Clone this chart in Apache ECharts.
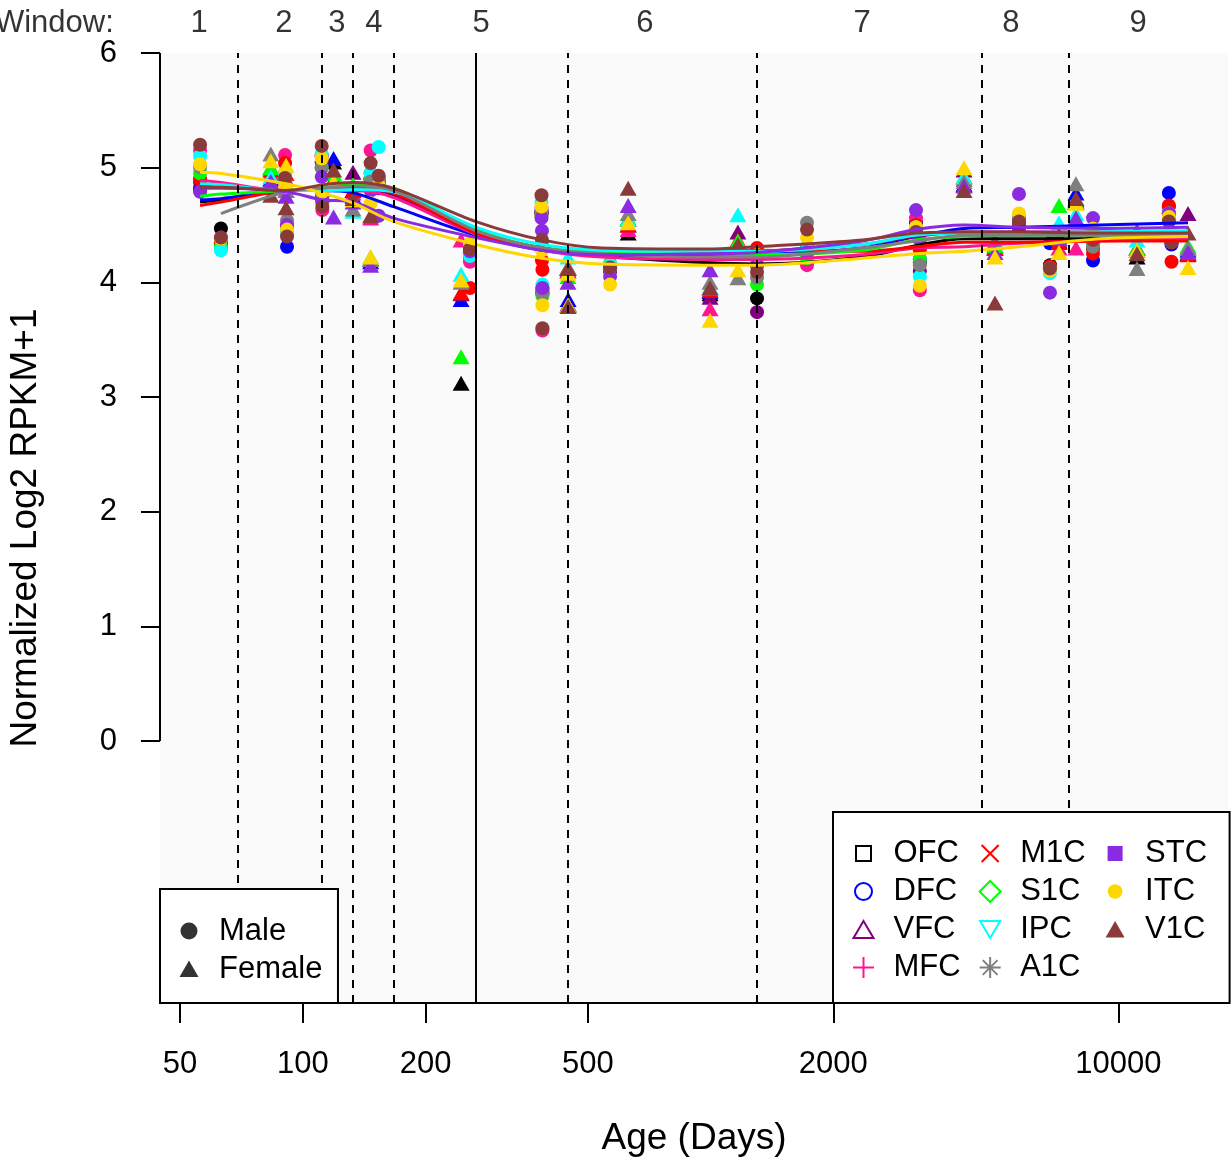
<!DOCTYPE html>
<html><head><meta charset="utf-8">
<script src="https://cdn.jsdelivr.net/npm/echarts@6/dist/echarts.min.js"></script>
<style>html,body{margin:0;padding:0;background:#fff}#c{width:1232px;height:1158px}</style>
</head><body><div id="c"></div>
<script>
const REGIONS = ['OFC','DFC','VFC','MFC','M1C','S1C','IPC','A1C','STC','ITC','V1C'];
const COLORS = ['#000000','#0000FF','#800080','#FF1493','#FF0000','#00FF00','#00FFFF','#7F7F7F','#8A2BE2','#FFD700','#8B3A3A'];

// sample ages (post-conception days) and sex of each donor column
const AGES = [56, 63, 83.5, 90.5, 91.5, 91, 111.3, 111.7, 119, 132.8, 146.7, 146.7, 153.5, 244.5, 257, 385, 386, 387, 447, 447.5, 567, 628, 997, 1167, 1300, 1724, 3190, 3260, 4184, 4983, 5706, 6797, 7152, 7871, 8667, 11111, 13300, 13500, 14820];
const SEX  = ['M','M','F','M','M','F','M','M','F','F','M','F','M','F','M','M','M','M','F','F','M','F','F','F','M','M','M','M','F','F','M','M','F','F','M','F','M','M','F'];

const OFC = [4.80,4.47,4.85,4.90,4.45,4.85,5.00,4.75,5.05,4.80,4.90,4.20,4.85,3.12,4.25,4.60,4.30,3.90,4.10,3.80,4.12,4.43,3.90,4.30,3.86,4.30,4.45,4.17,4.85,4.30,4.50,4.15,4.35,4.70,4.30,4.22,4.60,4.35,4.25];
const DFC = [4.82,4.30,4.90,4.85,4.31,4.90,5.05,4.72,5.08,4.75,4.85,4.18,4.82,3.85,4.22,4.62,4.30,3.92,4.12,3.85,4.10,4.50,3.92,4.32,4.22,4.28,4.52,4.20,4.85,4.30,4.52,4.34,4.36,4.78,4.19,4.30,4.78,4.33,4.28];
const VFC = [4.87,4.35,5.00,4.95,4.47,4.80,5.10,4.70,4.90,4.96,4.90,4.20,4.88,3.90,4.26,4.60,4.32,3.95,4.12,3.81,4.10,4.55,3.87,4.44,3.74,4.30,4.50,4.10,4.98,4.32,4.52,4.12,4.38,4.70,4.35,4.30,4.66,4.38,4.60];
const MFC = [5.15,4.33,4.95,5.11,4.50,4.90,5.10,4.63,4.88,4.78,5.15,4.56,4.90,4.37,4.18,4.65,4.30,3.58,4.10,3.80,4.12,4.46,3.77,4.30,4.15,4.15,4.56,3.93,4.90,4.30,4.50,4.12,4.30,4.30,4.32,4.30,4.60,4.36,4.30];
const M1C = [4.90,4.34,4.98,5.04,4.48,4.95,5.05,4.75,4.90,4.80,4.95,4.20,4.88,3.91,3.95,4.60,4.19,4.11,4.13,3.80,4.14,4.50,3.93,4.37,4.30,4.25,4.50,4.28,4.92,4.30,4.47,4.14,4.35,4.72,4.25,4.28,4.67,4.18,4.24];
const S1C = [4.95,4.31,5.00,4.90,4.46,4.85,5.00,4.78,4.95,4.85,4.90,4.22,4.92,3.35,4.25,4.58,4.32,3.88,4.05,3.80,4.17,4.56,3.95,4.36,3.98,4.21,4.45,4.20,4.92,4.32,4.55,4.12,4.67,4.70,4.33,4.30,4.60,4.40,4.32];
const IPC = [5.10,4.28,4.92,4.95,4.43,4.85,5.12,4.80,4.85,4.62,4.95,4.20,5.18,4.07,4.23,4.70,4.35,3.98,4.22,3.80,4.15,4.55,3.96,4.59,4.20,4.30,4.48,4.05,4.92,4.36,4.58,4.08,4.52,4.60,4.40,4.37,4.60,4.42,4.30];
const A1C = [5.00,4.38,5.12,4.88,4.54,4.80,5.00,4.70,4.88,4.64,4.88,4.20,4.90,4.00,4.28,4.62,4.30,3.90,4.13,3.80,4.12,4.60,4.00,4.04,4.04,4.52,4.46,4.15,4.88,4.35,4.55,4.12,4.40,4.86,4.31,4.12,4.55,4.35,4.30];
const STC = [4.79,4.39,4.88,4.86,4.50,4.75,4.92,4.72,4.57,4.70,4.80,4.15,4.58,null,4.27,4.56,4.45,3.95,4.00,null,4.05,4.67,4.11,4.30,4.15,4.26,4.63,4.37,4.84,4.26,4.77,3.91,4.38,4.56,4.56,4.45,4.60,4.38,4.26];
const ITC = [5.03,4.38,5.06,4.83,4.46,5.02,5.08,4.79,4.88,4.72,4.69,4.22,4.85,4.02,4.34,4.66,4.28,3.80,4.08,3.80,3.98,4.52,3.67,4.11,4.24,4.39,4.48,3.97,5.00,4.22,4.60,4.10,4.26,4.69,4.47,4.28,4.57,4.44,4.13];
const V1C = [5.20,4.39,4.76,4.91,4.40,4.65,5.19,4.66,4.98,4.73,5.04,4.58,4.93,null,4.29,4.76,4.37,3.60,4.12,3.79,4.13,4.82,3.95,4.33,4.09,4.46,4.44,null,4.80,3.82,4.53,4.12,4.41,4.73,4.37,4.25,4.53,4.35,4.43];

// smoothed (loess) curves
const LINE_AGES = [56, 63, 91, 111.5, 133, 167, 266, 386, 541, 997, 1300, 2360, 3190, 4184, 5706, 9016, 14820];
const OFC_FIT = [4.70,4.72,4.80,4.80,4.82,4.76,4.42,4.30,4.23,4.17,4.16,4.22,4.32,4.38,4.38,4.38,4.38];
const DFC_FIT = [4.72,4.73,4.80,4.80,4.78,4.66,4.41,4.28,4.24,4.23,4.24,4.30,4.40,4.47,4.48,4.50,4.52];
const VFC_FIT = [4.85,4.84,4.80,4.82,4.82,4.77,4.44,4.30,4.26,4.26,4.27,4.33,4.40,4.44,4.44,4.44,4.44];
const MFC_FIT = [4.89,4.87,4.80,4.80,4.80,4.74,4.42,4.28,4.22,4.20,4.20,4.24,4.30,4.31,4.34,4.36,4.38];
const M1C_FIT = [4.67,4.70,4.80,4.81,4.82,4.78,4.43,4.30,4.27,4.28,4.28,4.27,4.31,4.35,4.35,4.36,4.36];
const S1C_FIT = [4.75,4.77,4.80,4.82,4.85,4.82,4.46,4.30,4.26,4.25,4.24,4.28,4.37,4.40,4.41,4.41,4.42];
const IPC_FIT = [4.86,4.85,4.80,4.80,4.81,4.79,4.48,4.33,4.28,4.27,4.27,4.33,4.41,4.43,4.43,4.44,4.45];
const A1C_FIT = [null,4.60,4.79,4.82,4.84,4.80,4.45,4.30,4.25,4.22,4.22,4.30,4.36,4.41,4.41,4.41,4.42];
const STC_FIT = [4.82,4.82,4.79,4.72,4.70,4.56,4.39,4.28,4.24,4.25,4.26,4.36,4.46,4.50,4.48,4.47,4.48];
const ITC_FIT = [4.96,4.95,4.86,4.78,4.69,4.53,4.33,4.21,4.16,4.15,4.15,4.21,4.25,4.27,4.31,4.38,4.40];
const V1C_FIT = [4.83,4.83,4.80,4.85,4.87,4.82,4.53,4.37,4.30,4.29,4.31,4.37,4.43,4.44,4.44,4.43,4.43];

const WINDOW_BOUNDS = [69.4, 111.5, 132.8, 167.4, 266, 447, 1300, 4630, 7570];
const BIRTH = 266;
const WINDOW_LABELS = ['1','2','3','4','5','6','7','8','9'];
const WINDOW_LABEL_AGES = [55.7, 89.9, 121.3, 149.5, 273.6, 690, 2352, 5453, 11174];
const WINDOW_TITLE = 'Window:';
const WINDOW_TITLE_AGE = 24.6;
const X_TICKS = [50, 100, 200, 500, 2000, 10000];
const Y_TICKS = [0, 1, 2, 3, 4, 5, 6];
const X_MIN = 44.66, X_MAX = 18573, Y_MIN = -2.285, Y_MAX = 6, LABEL_Y = 6.255;

const POINTS = {OFC, DFC, VFC, MFC, M1C, S1C, IPC, A1C, STC, ITC, V1C};
const FITS = {OFC:OFC_FIT, DFC:DFC_FIT, VFC:VFC_FIT, MFC:MFC_FIT, M1C:M1C_FIT, S1C:S1C_FIT, IPC:IPC_FIT, A1C:A1C_FIT, STC:STC_FIT, ITC:ITC_FIT, V1C:V1C_FIT};

const FONT = 'Liberation Sans, Arial, Helvetica, sans-serif';
// icon frame spans the whole 50x21 legend item box
const BOX = 'M0 0M50 21';
const ICONS = {
  OFC: {p: BOX+'M17.5 3L32.5 3L32.5 18L17.5 18Z', open: true},
  DFC: {p: BOX+'M16.5 10.5A8.5 8.5 0 1 1 33.5 10.5A8.5 8.5 0 1 1 16.5 10.5Z', open: true},
  VFC: {p: BOX+'M25 2L35 19L15 19Z', open: true},
  MFC: {p: BOX+'M25 0L25 21M14.5 10.5L35.5 10.5', open: true},
  M1C: {p: BOX+'M16.5 2L33.5 19M33.5 2L16.5 19', open: true},
  S1C: {p: BOX+'M25 0L35.5 10.5L25 21L14.5 10.5Z', open: true},
  IPC: {p: BOX+'M15 2L35 2L25 19Z', open: true},
  A1C: {p: BOX+'M25 0L25 21M14.5 10.5L35.5 10.5M17.6 3.1L32.4 17.9M32.4 3.1L17.6 17.9', open: true},
  STC: {p: BOX+'M17.5 3L32.5 3L32.5 18L17.5 18Z', open: false},
  ITC: {p: BOX+'M17.75 10.5A7.25 7.25 0 1 1 32.25 10.5A7.25 7.25 0 1 1 17.75 10.5Z', open: false},
  V1C: {p: BOX+'M25 2L34.5 18.5L15.5 18.5Z', open: false}
};
const SEX_ICONS = {
  Male: BOX+'M16.5 10.5A8.5 8.5 0 1 1 33.5 10.5A8.5 8.5 0 1 1 16.5 10.5Z',
  Female: BOX+'M25 2L34.5 18.5L15.5 18.5Z'
};

const series = [];
REGIONS.forEach((r, i) => {
  const vals = POINTS[r];
  const data = [];
  AGES.forEach((a, j) => {
    if (vals[j] == null) return;
    const male = SEX[j] === 'M';
    data.push({value: [a, vals[j]], symbol: male ? 'circle' : 'triangle', symbolSize: male ? 14 : [17, 15]});
  });
  series.push({type: 'scatter', name: r, data, z: 2, silent: true,
    itemStyle: {color: COLORS[i], opacity: 1}, emphasis: {disabled: true}});
});
series.push({type: 'scatter', name: 'Male', data: [], itemStyle: {color: '#000'}});
series.push({type: 'scatter', name: 'Female', data: [], itemStyle: {color: '#000'}});

// y axis line (0..6) and window boundaries
series.push({
  type: 'line', name: 'yaxisline', data: [[X_MIN, Y_TICKS[0]], [X_MIN, Y_TICKS[Y_TICKS.length - 1]]],
  symbol: 'none', clip: false, silent: true, z: 3,
  lineStyle: {color: '#000', width: 2},
  markLine: {
    silent: true, symbol: ['none', 'none'], label: {show: false}, animation: false,
    lineStyle: {color: '#000', width: 2, type: [8, 7]},
    data: WINDOW_BOUNDS.map(b => b === BIRTH ? {xAxis: b, lineStyle: {type: 'solid', color: '#000', width: 2}} : {xAxis: b})
  }
});

REGIONS.forEach((r, i) => {
  series.push({type: 'line', name: r + ' fit', data: LINE_AGES.map((a, j) => [a, FITS[r][j]]),
    smooth: 0.3, symbol: 'none', showSymbol: false, connectNulls: false, silent: true, z: 4,
    lineStyle: {color: COLORS[i], width: 3}, itemStyle: {color: COLORS[i]}});
});

const winData = WINDOW_LABEL_AGES.map((a, i) => ({value: [a, LABEL_Y], label: {formatter: WINDOW_LABELS[i]}}));
winData.push({value: [WINDOW_TITLE_AGE, LABEL_Y], label: {formatter: WINDOW_TITLE}});
series.push({type: 'scatter', name: 'windows', data: winData, symbolSize: 1, clip: false, silent: true, z: 5,
  itemStyle: {color: 'rgba(0,0,0,0)'},
  label: {show: true, position: 'inside', fontSize: 31, color: '#000', fontFamily: FONT}});

const regionLegendData = [];
REGIONS.forEach((r, i) => {
  if (r === 'M1C') regionLegendData.push('\n');
  if (r === 'STC') regionLegendData.push('');
  const ic = ICONS[r];
  regionLegendData.push({name: r, icon: 'path://' + ic.p,
    itemStyle: ic.open ? {color: 'none', borderColor: COLORS[i], borderWidth: 2} : {color: COLORS[i], borderWidth: 0}});
});

const legendCommon = {
  orient: 'vertical', align: 'left', itemGap: 2, itemWidth: 50, itemHeight: 21,
  borderColor: '#000', borderWidth: 2, backgroundColor: '#fff', borderRadius: 0,
  selectedMode: false, symbolKeepAspect: true, z: 10,
  textStyle: {fontSize: 31, lineHeight: 36, color: '#000', fontFamily: FONT}
};

const option = {
  animation: false,
  textStyle: {fontFamily: FONT},
  grid: {left: 160, top: 53, width: 1068, height: 950, show: true, backgroundColor: '#FAFAFA', borderWidth: 0,
    containLabel: false, outerBoundsMode: 'none'},
  xAxis: {
    type: 'log', logBase: 10, min: X_MIN, max: X_MAX,
    name: 'Age (Days)', nameLocation: 'middle', nameGap: 117,
    nameTextStyle: {fontSize: 37, color: '#000', fontFamily: FONT},
    axisLine: {show: true, onZero: false, lineStyle: {color: '#000', width: 2}},
    axisTick: {show: true, length: 20, customValues: X_TICKS, lineStyle: {color: '#000', width: 2}},
    axisLabel: {show: true, customValues: X_TICKS, margin: 46, fontSize: 31, color: '#000', fontFamily: FONT,
      formatter: v => String(Math.round(v))},
    splitLine: {show: false}, minorTick: {show: false}
  },
  yAxis: {
    type: 'value', min: Y_MIN, max: Y_MAX,
    name: 'Normalized Log2 RPKM+1', nameLocation: 'middle', nameGap: 116, nameRotate: 90,
    nameTextStyle: {fontSize: 37, color: '#000', fontFamily: FONT},
    axisLine: {show: false},
    axisTick: {show: true, length: 19, customValues: Y_TICKS, lineStyle: {color: '#000', width: 2}},
    axisLabel: {show: true, customValues: Y_TICKS, margin: 43, fontSize: 31, color: '#000', fontFamily: FONT,
      padding: [4, 0, 0, 0], formatter: v => String(Math.round(v))},
    splitLine: {show: false}
  },
  legend: [
    Object.assign({}, legendCommon, {left: 833, top: 812, padding: [23.5, 22.5, 17.5, 3], data: regionLegendData}),
    Object.assign({}, legendCommon, {left: 160, top: 889, padding: [24, 15.6, 16, 4],
      data: ['Male', 'Female'].map(n => ({name: n, icon: 'path://' + SEX_ICONS[n], itemStyle: {color: '#000', borderWidth: 0}}))})
  ],
  series
};

const chart = echarts.init(document.getElementById('c'), null, {renderer: 'canvas'});
chart.setOption(option);
</script>
</body></html>
